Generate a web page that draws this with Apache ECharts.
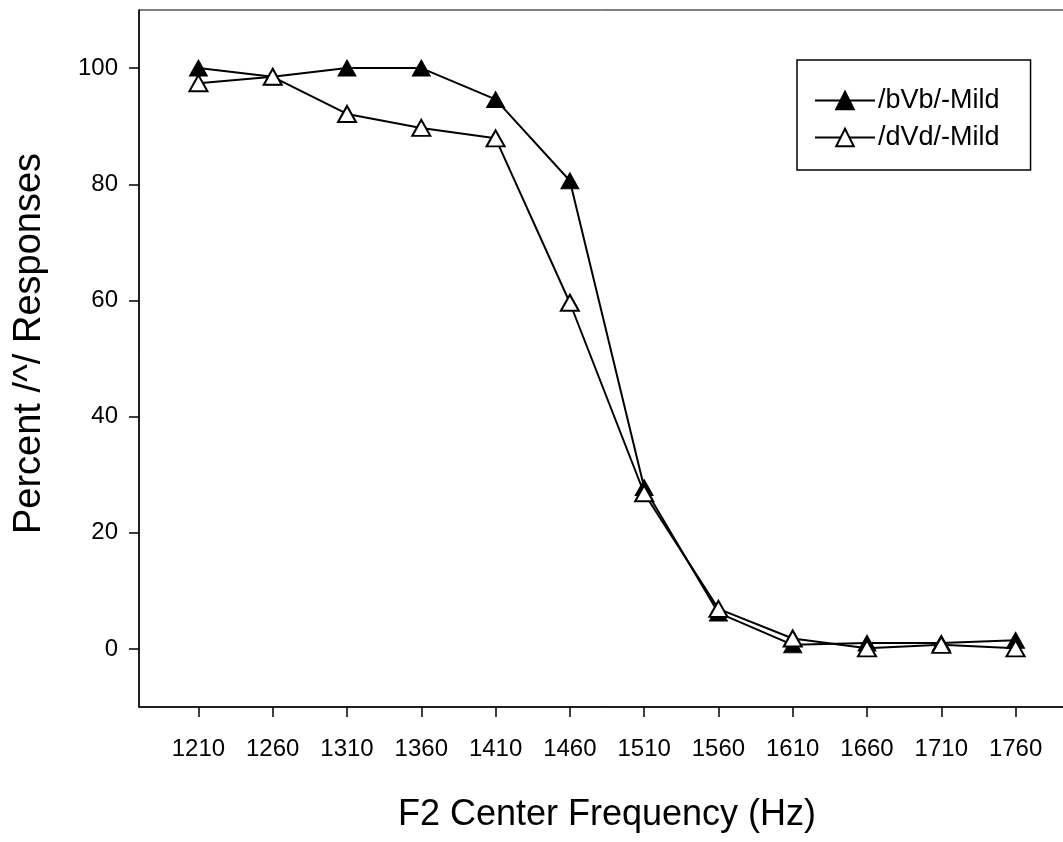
<!DOCTYPE html>
<html>
<head>
<meta charset="utf-8">
<script src="https://cdn.jsdelivr.net/npm/echarts@6/dist/echarts.min.js"></script>
<style>
html,body{margin:0;padding:0;background:#fff;}
#chart{width:1063px;height:842px;}
</style>
</head>
<body>
<div id="chart"></div>
<script>
const frequencies = [1210, 1260, 1310, 1360, 1410, 1460, 1510, 1560, 1610, 1660, 1710, 1760];
const bVbMild = [100, 98.5, 100, 100, 94.6, 80.6, 27.8, 6.2, 0.7, 1.0, 1.0, 1.5];
const dVdMild = [97.4, 98.5, 92.1, 89.7, 87.9, 59.6, 26.8, 6.9, 1.8, 0.1, 0.7, 0.1];
const yTickValues = [0, 20, 40, 60, 80, 100];
const seriesNames = ['/bVb/-Mild', '/dVd/-Mild'];

const chart = echarts.init(document.getElementById('chart'), null, {renderer: 'canvas'});
const font = 'Liberation Sans, Arial, sans-serif';

chart.setOption({
  animation: false,
  backgroundColor: '#fff',
  grid: {
    left: 139, right: -12, top: 10, bottom: 135,
    outerBoundsMode: 'none',
    containLabel: false,
    show: true, borderColor: '#000', borderWidth: 1
  },
  legend: {
    orient: 'vertical',
    left: 797, top: 60,
    padding: [27, 31, 19, 17],
    itemGap: 10,
    itemWidth: 60,
    itemHeight: 22,
    borderColor: '#000',
    borderWidth: 1.5,
    backgroundColor: '#fff',
    textStyle: {fontFamily: font, fontSize: 27, color: '#000', padding: [0, 0, 0, -2]},
    data: seriesNames
  },
  xAxis: {
    type: 'value',
    min: 1170, max: 1800,
    name: 'F2 Center Frequency (Hz)',
    nameLocation: 'middle',
    nameGap: 90,
    nameTextStyle: {fontFamily: font, fontSize: 36, color: '#000'},
    axisLine: {show: true, onZero: false, lineStyle: {color: '#000', width: 1.5}},
    axisTick: {show: true, length: 10, inside: false, customValues: frequencies, lineStyle: {color: '#000', width: 1.5}},
    axisLabel: {customValues: frequencies, formatter: v => String(v), fontFamily: font, fontSize: 24, color: '#000', margin: 30},
    splitLine: {show: false}
  },
  yAxis: {
    type: 'value',
    min: -10, max: 110,
    name: 'Percent /^/ Responses',
    nameLocation: 'middle',
    nameGap: 90,
    nameTextStyle: {fontFamily: font, fontSize: 38, color: '#000', padding: [0, 0, 0, 30]},
    axisLine: {show: true, onZero: false, lineStyle: {color: '#000', width: 1.5}},
    axisTick: {show: true, length: 10, inside: false, customValues: yTickValues, lineStyle: {color: '#000', width: 1.5}},
    axisLabel: {customValues: yTickValues, formatter: v => String(v), fontFamily: font, fontSize: 24, color: '#000', margin: 21},
    splitLine: {show: false}
  },
  series: [
    {
      name: seriesNames[0],
      type: 'line',
      data: frequencies.map((f, i) => [f, bVbMild[i]]),
      symbol: 'triangle',
      symbolSize: [18, 16],
      itemStyle: {color: '#000', borderColor: '#000', borderWidth: 1},
      lineStyle: {color: '#000', width: 2},
      emphasis: {disabled: true},
      z: 2
    },
    {
      name: seriesNames[1],
      type: 'line',
      data: frequencies.map((f, i) => [f, dVdMild[i]]),
      symbol: 'triangle',
      symbolSize: [18, 16],
      showAllSymbol: true,
      itemStyle: {color: '#fff', borderColor: '#000', borderWidth: 2},
      lineStyle: {color: '#000', width: 2},
      emphasis: {disabled: true},
      z: 3
    }
  ]
});
</script>
</body>
</html>
